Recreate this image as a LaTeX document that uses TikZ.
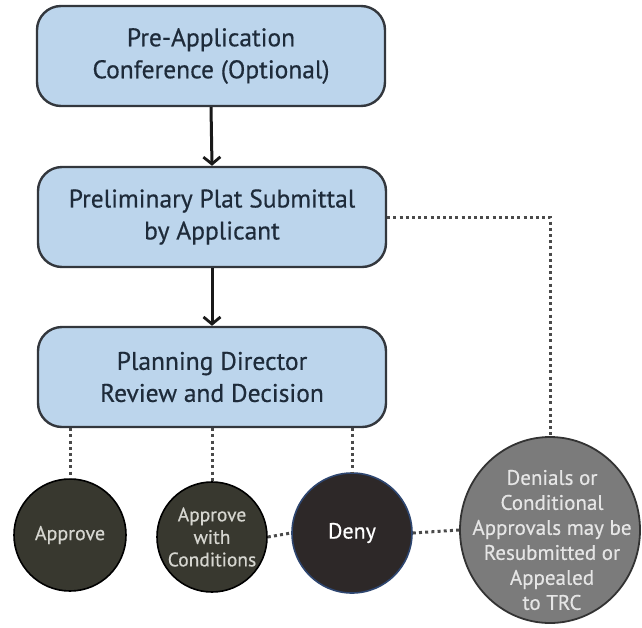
\documentclass[tikz,border=0pt]{standalone}
\usepackage{fontspec}
\setmainfont{PT Sans}
\newfontfamily\labelfont{PT Sans}[FakeBold=0.5]
\usetikzlibrary{arrows.meta,shapes.geometric}

\definecolor{boxfill}{HTML}{BCD5EC}
\definecolor{boxline}{HTML}{33373D}
\definecolor{boxtext}{HTML}{1E2B3A}
\definecolor{olive}{HTML}{38382F}
\definecolor{denyfill}{HTML}{2D2828}
\definecolor{denyline}{HTML}{2E4670}
\definecolor{greyfill}{HTML}{7B7B7B}
\definecolor{dotcol}{HTML}{4A4A4A}
\definecolor{lighttext}{HTML}{D6D6D0}

\tikzset{
  stepbox/.style={draw=boxline, line width=2.4pt, fill=boxfill, rounded corners=24pt,
    minimum width=348pt, minimum height=100pt, align=center, text=boxtext,
    font=\labelfont\fontsize{25.5}{32}\selectfont},
  outcome/.style={circle, draw=black, line width=1.6pt, fill=olive, minimum size=112pt,
    inner sep=0pt, align=center, text=lighttext, font=\labelfont\fontsize{19.5}{22.5}\selectfont},
  flow/.style={draw=black!90, line width=3pt, -{Straight Barb[length=7pt,width=17pt,line width=2.8pt]}},
  dots/.style={draw=dotcol, line width=3pt, dash pattern=on 3pt off 3.2pt}
}

\begin{document}
\begin{tikzpicture}[x=1pt,y=-1pt]
  \useasboundingbox (0,0) rectangle (642,627);

  % process steps
  \node[stepbox] (pre)  at (211,56)  {Pre-Application\\Conference (Optional)};
  \node[stepbox] (sub)  at (212,217) {Preliminary Plat Submittal\\by Applicant};
  \node[stepbox] (rev)  at (212,377) {Planning Director\\Review and Decision};

  % possible decisions
  \node[outcome, font=\labelfont\fontsize{20}{22}\selectfont] (app)  at (70,535)  {Approve};
  \node[outcome, minimum size=110pt] (cond) at (212,537) {Approve\\with\\Conditions};
  \node[outcome, fill=denyfill, draw=denyline, minimum size=120pt, text=white,
        font=\labelfont\fontsize{22}{24}\selectfont] (deny) at (352,533) {Deny};

  % resubmittal / appeal path
  \node[ellipse, draw=black!80, line width=1.8pt, fill=greyfill, minimum width=180pt,
        minimum height=186pt, inner sep=0pt] (resub) at (550,530) {};
  \node[align=center, text=white!90!black, inner sep=0pt,
        font=\labelfont\fontsize{21}{25}\selectfont] (resubtext) at (552,540)
        {Denials or\\Conditional\\Approvals may be\\Resubmitted or\\Appealed\\to TRC};

  % main flow
  \draw[flow] (pre.south) -- (sub.north);
  \draw[flow] (sub.south) -- (rev.north);

  % decision links
  \draw[dots] (rev.south -| app.north)  -- (app.north);
  \draw[dots] (rev.south -| cond.north) -- (cond.north);
  \draw[dots] (rev.south -| deny.north) -- (deny.north);
  \draw[dots] (cond.east) -- (deny.west);
  \draw[dots] (deny.east) -- (resub.west);
  \draw[dots] (sub.east) -| (resub.north);
\end{tikzpicture}
\end{document}
